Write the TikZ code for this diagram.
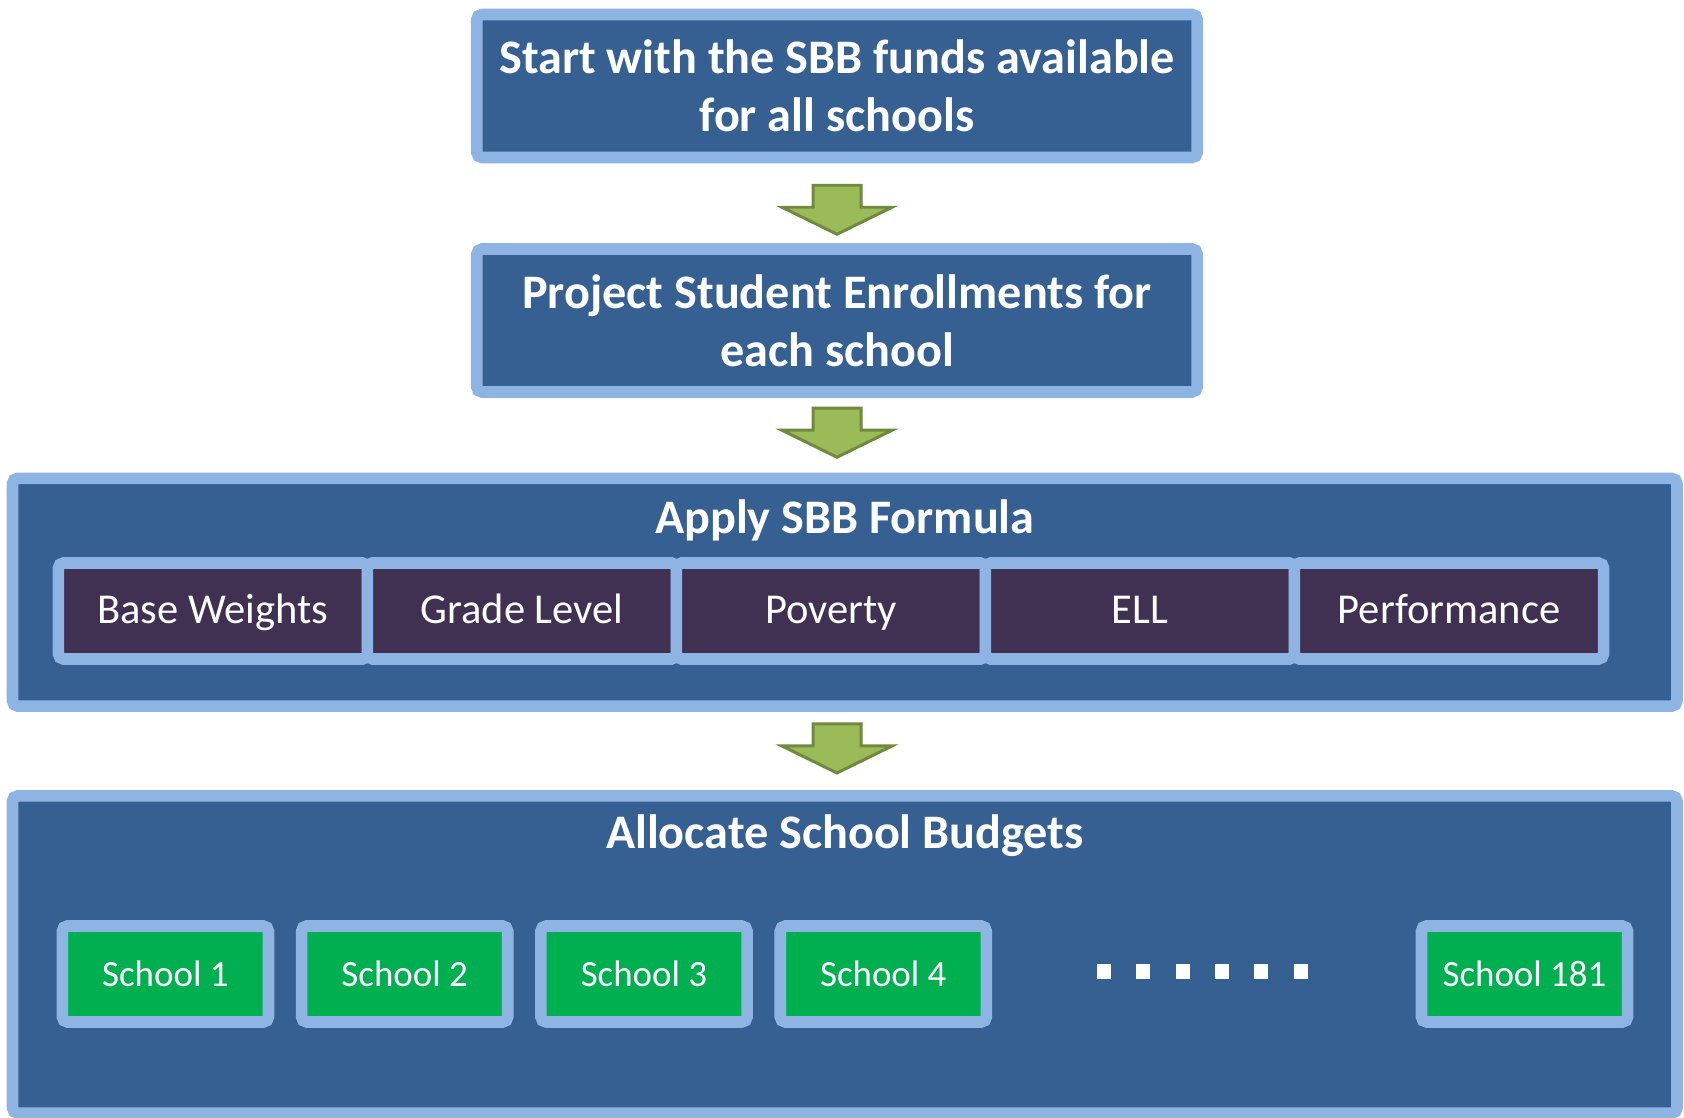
\documentclass[tikz,border=0pt]{standalone}
\usepackage{fontspec}
\setmainfont{Carlito}
\usetikzlibrary{calc}
\definecolor{boxblue}{HTML}{366092}
\definecolor{rimblue}{HTML}{8EB4E3}
\definecolor{cellpurple}{HTML}{403152}
\definecolor{schoolgreen}{HTML}{00B050}
\definecolor{arrowgreen}{HTML}{9BBB59}
\definecolor{arrowrim}{HTML}{71893F}
\begin{document}
\begin{tikzpicture}[x=0.01cm, y=-0.01cm,
    every node/.style={text=white, inner sep=0pt},
    stepbox/.style={draw=rimblue, fill=boxblue, line width=3.3pt, rounded corners=1.5pt,
        minimum width=7.2cm, minimum height=1.43cm, align=center,
        font=\fontsize{13.7}{16.5}\selectfont\bfseries},
    bigbox/.style={draw=rimblue, fill=boxblue, line width=3.3pt, rounded corners=1.5pt,
        minimum width=16.635cm},
    boxtitle/.style={font=\fontsize{13.7}{16.5}\selectfont\bfseries},
    factor/.style={draw=rimblue, fill=cellpurple, line width=3.3pt, rounded corners=1.5pt,
        minimum width=3.09cm, minimum height=0.96cm, text height=0.7em, text depth=0pt,
        font=\fontsize{12.1}{14}\selectfont},
    school/.style={draw=rimblue, fill=schoolgreen, line width=3.3pt, rounded corners=1.5pt,
        minimum width=2.06cm, minimum height=0.96cm, text height=0.7em, text depth=0pt,
        font=\fontsize{10.5}{12.5}\selectfont},
    blockarrow/.style={draw=arrowrim, fill=arrowgreen, line width=0.85pt}]
    \useasboundingbox (0,0) rectangle (1684,1118);
    % first two steps
    \node[stepbox] (funds) at (837,86) {Start with the SBB funds available\\for all schools};
    \node[stepbox] (enroll) at (837,320.5) {Project Student Enrollments for\\each school};
    % formula box with its factors
    \node[bigbox, minimum height=2.275cm] (formula) at (844.75,592.25) {};
    \node[boxtitle] (formulatitle) at (844.75,520) {Apply SBB Formula};
    \foreach \name [count=\i from 0] in {Base Weights, Grade Level, Poverty, ELL, Performance}
        \node[factor] (factor\i) at ({213+309*\i},611) {\name};
    % allocation box with the schools
    \node[bigbox, minimum height=3.17cm] (alloc) at (844.75,954.5) {};
    \node[boxtitle] (alloctitle) at (844.75,836) {Allocate School Budgets};
    \foreach \n/\x in {1/165.4, 2/404.7, 3/644, 4/883.3, 181/1524.5}
        \node[school] (school\n) at (\x,974) {School \n};
    \foreach \i in {0,...,5}
        \fill[white] ({1097+39.3*\i},964) rectangle +(14,15);
    % block arrows between the steps
    \foreach \a/\b/\d in {funds/enroll/7, enroll/formula/-2, formula/alloc/-2} {
        \coordinate (mid) at ($(\a.south)!0.5!(\b.north)$);
        \draw[blockarrow, shift={(funds.center |- mid)}, yshift=-\d*0.01cm]
            (-24,-25) -- (24,-25) -- (24,-3) -- (55,-3) -- (0,24) -- (-55,-3) -- (-24,-3) -- cycle;
    }
\end{tikzpicture}
\end{document}
